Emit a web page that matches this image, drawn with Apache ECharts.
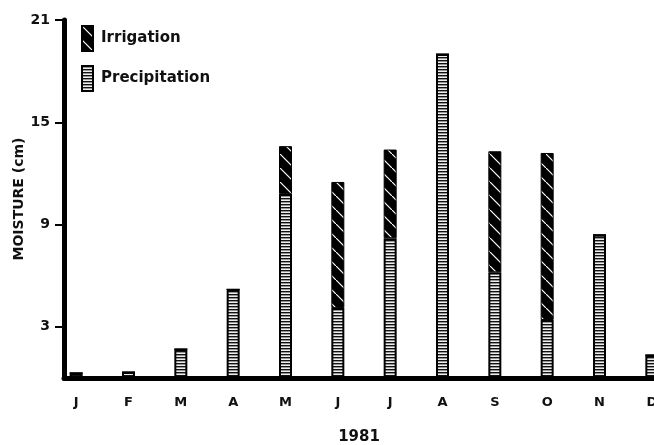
<!DOCTYPE html>
<html>
<head>
<meta charset="utf-8">
<script src="https://cdn.jsdelivr.net/npm/echarts@6/dist/echarts.min.js"></script>
<style>
  html, body { margin: 0; padding: 0; background: #fff; }
</style>
</head>
<body>
<div id="myChart" style="width:654px;height:445px;"></div>
<script>
var months = ["J", "F", "M", "A", "M", "J", "J", "A", "S", "O", "N", "D"];
var precipitation = [0.3, 0.35, 1.7, 5.2, 10.8, 4.1, 8.2, 19.0, 6.2, 3.4, 8.4, 1.35];
var irrigation = [0, 0, 0, 0, 2.8, 7.4, 5.2, 0, 7.1, 9.8, 0, 0];
var yTicks = [3, 9, 15, 21];

var font = "DejaVu Sans";

// ladder pattern for precipitation
function stripes() {
  var c = document.createElement("canvas");
  c.width = 4; c.height = 3;
  var ctx = c.getContext("2d");
  ctx.fillStyle = "#eeeeee";
  ctx.fillRect(0, 0, 4, 3);
  ctx.fillStyle = "#111";
  ctx.fillRect(0, 0, 4, 1.4);
  return c;
}
// black with white diagonal lines for irrigation
function hatch() {
  var c = document.createElement("canvas");
  c.width = 14; c.height = 14;
  var ctx = c.getContext("2d");
  ctx.fillStyle = "#000";
  ctx.fillRect(0, 0, 14, 14);
  ctx.strokeStyle = "#fff";
  ctx.lineWidth = 1.2;
  ctx.beginPath();
  ctx.moveTo(-2, -2); ctx.lineTo(16, 16);
  ctx.stroke();
  return c;
}

var myChart = echarts.init(document.getElementById("myChart"));
myChart.setOption({
  animation: false,
  backgroundColor: "#fff",
  textStyle: { fontFamily: font },
  legend: {
    orient: "vertical",
    left: 76,
    top: 20,
    itemWidth: 11,
    itemHeight: 25,
    itemGap: 13,
    icon: "rect",
    data: ["Irrigation", "Precipitation"],
    textStyle: { fontSize: 15, fontWeight: "bold", color: "#111", padding: [0, 0, 0, 3] }
  },
  // grid 0 holds the bars (months), grid 1 draws the visible axes
  grid: [
    { left: 50, right: -24, top: 20, bottom: 67, outerBoundsMode: "none", containLabel: false },
    { left: 64, right: 0, top: 20, bottom: 67, outerBoundsMode: "none", containLabel: false }
  ],
  xAxis: [
    {
      type: "category",
      gridIndex: 0,
      data: months,
      axisLine: { show: false },
      axisTick: { show: false },
      axisLabel: { margin: 18, fontSize: 13, fontWeight: "bold", color: "#111" }
    },
    {
      type: "value",
      gridIndex: 1,
      min: 0,
      max: 1,
      name: "1981",
      nameLocation: "middle",
      nameGap: 52,
      nameMoveOverlap: false,
      nameTextStyle: { fontSize: 15, fontWeight: "bold", color: "#111" },
      splitLine: { show: false },
      axisLine: { lineStyle: { color: "#000", width: 5 } },
      axisTick: { show: false },
      axisLabel: { show: false }
    }
  ],
  yAxis: [
    {
      type: "value",
      gridIndex: 0,
      min: 0,
      max: 21,
      show: false
    },
    {
      type: "value",
      gridIndex: 1,
      min: 0,
      max: 21,
      name: "MOISTURE (cm)",
      nameLocation: "middle",
      nameGap: 38,
      nameMoveOverlap: false,
      nameTextStyle: { fontSize: 14, fontWeight: "bold", color: "#111" },
      splitLine: { show: false },
      axisLine: { show: true, lineStyle: { color: "#000", width: 5 } },
      axisTick: {
        show: true,
        customValues: yTicks,
        length: 9,
        lineStyle: { color: "#000", width: 2 }
      },
      axisLabel: {
        customValues: yTicks,
        margin: 14,
        fontSize: 14,
        fontWeight: "bold",
        color: "#111"
      }
    }
  ],
  series: [
    {
      name: "Precipitation",
      type: "bar",
      stack: "m",
      barWidth: 13,
      xAxisIndex: 0,
      yAxisIndex: 0,
      itemStyle: {
        color: { image: stripes(), repeat: "repeat" },
        borderColor: "#000",
        borderWidth: 2
      },
      data: precipitation
    },
    {
      name: "Irrigation",
      type: "bar",
      stack: "m",
      barWidth: 13,
      xAxisIndex: 0,
      yAxisIndex: 0,
      itemStyle: {
        color: { image: hatch(), repeat: "repeat" },
        borderColor: "#000",
        borderWidth: 1
      },
      data: irrigation
    }
  ]
});
</script>
</body>
</html>
